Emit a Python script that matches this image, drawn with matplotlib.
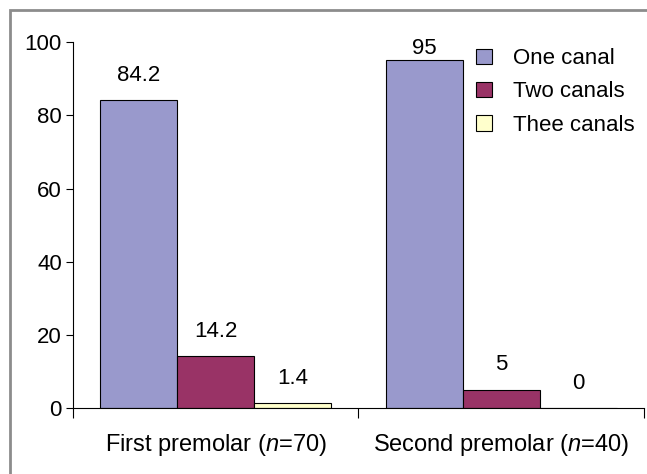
import matplotlib
matplotlib.use("Agg")
import matplotlib.pyplot as plt
import numpy as np
from matplotlib.patches import Rectangle

plt.rcParams['font.family'] = ['Liberation Sans', 'DejaVu Sans']
plt.rcParams['mathtext.fontset'] = 'custom'
plt.rcParams['mathtext.rm'] = 'Liberation Sans'
plt.rcParams['mathtext.it'] = 'Liberation Sans:italic'

groups = ["First premolar ($n$=70)", "Second premolar ($n$=40)"]
series = ["One canal", "Two canals", "Thee canals"]
one_canal = [84.2, 95]
two_canals = [14.2, 5]
three_canals = [1.4, 0]
value_labels = [["84.2", "95"], ["14.2", "5"], ["1.4", "0"]]
yticks = [0, 20, 40, 60, 80, 100]

colors = ["#9999cc", "#993366", "#ffffcc"]
fs = 16

fig = plt.figure(figsize=(6.47, 4.74), dpi=100)
ax = fig.add_axes([0.113, 0.139, 0.882, 0.772])

# gray frame around the chart
fig.patches.append(Rectangle((10 / 647, -0.1), 1.2, 464 / 474 + 0.1,
                             transform=fig.transFigure, fill=False,
                             edgecolor="#8c8c8c", linewidth=2))

x = np.arange(len(groups)) + 0.5
w = 0.27
handles = []
for i, (vals, name) in enumerate(zip([one_canal, two_canals, three_canals], series)):
    pos = x + (i - 1) * w
    b = ax.bar(pos, vals, w, color=colors[i], edgecolor="black", linewidth=0.8, label=name)
    handles.append(b)
    for p, v, t in zip(pos, vals, value_labels[i]):
        ax.text(p, min(v + 6.8, 98.4), t, ha="center", va="center", fontsize=fs)

ax.set_xlim(0, 2)
ax.set_ylim(0, 100)
ax.set_yticks(yticks)
ax.tick_params(axis="y", labelsize=fs, length=5, pad=3)

ax.set_xticks([0, 1, 2])
ax.set_xticklabels([])
ax.set_xticks(x, minor=True)
ax.set_xticklabels(groups, minor=True)
ax.tick_params(axis="x", which="major", length=7, direction="out")
ax.tick_params(axis="x", which="minor", length=0, labelsize=17, pad=17)

ax.spines["top"].set_visible(False)
ax.spines["right"].set_visible(False)

fig.legend(handles=handles, loc="upper left", bbox_to_anchor=(0.722, 0.917),
           frameon=False, fontsize=fs, handlelength=0.7, handleheight=0.7,
           handletextpad=0.95, labelspacing=0.55, borderaxespad=0)

fig.savefig("out.png", dpi=100)
